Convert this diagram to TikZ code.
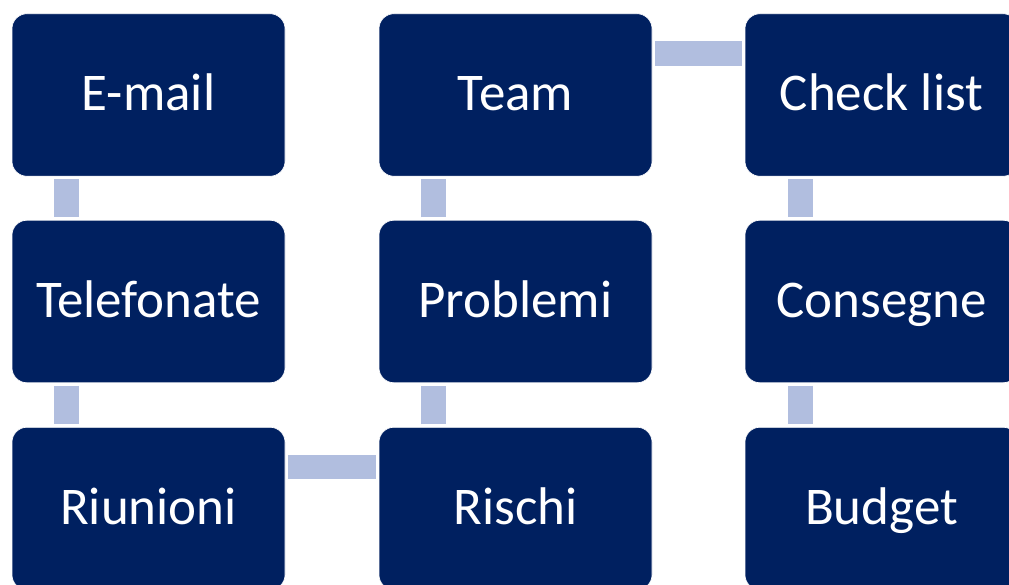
\documentclass[tikz,border=0pt]{standalone}
\usepackage{fontspec}
\setmainfont{Carlito}
\definecolor{navybox}{HTML}{002060}
\definecolor{linkcol}{HTML}{B1BEDF}
\tikzset{
  boxnode/.style={rectangle, rounded corners=15pt, minimum width=273pt, minimum height=162.5pt,
    fill=navybox, draw=white, line width=0.6pt, text=white, inner sep=0pt,
    text height=40pt, text depth=9pt,
    font=\fontsize{53}{62}\selectfont},
  vlink/.style={draw=linkcol, line width=24.5pt, line cap=butt, shorten <=2.5pt, shorten >=2.5pt},
  hlink/.style={draw=linkcol, line width=24.5pt, line cap=butt, shorten <=3pt, shorten >=3pt}
}
\begin{document}
\begin{tikzpicture}[x=1pt,y=-1pt]
\useasboundingbox (0,0) rectangle (1009,585);
\clip (0,0) rectangle (1009,585);
\node[boxnode] (email) at (148.5,95) {E-mail};
\node[boxnode] (tel) at (148.5,301.5) {Telefonate};
\node[boxnode] (riu) at (148.5,508.5) {Riunioni};
\node[boxnode] (team) at (515.5,95) {Team};
\node[boxnode] (prob) at (515.5,301.5) {Problemi};
\node[boxnode] (ris) at (515.5,508.5) {Rischi};
\node[boxnode] (check) at (881.5,95) {Check list};
\node[boxnode] (cons) at (881.5,301.5) {Consegne};
\node[boxnode] (bud) at (881.5,508.5) {Budget};
\draw[vlink] ([xshift=-82pt]email.south) -- ([xshift=-82pt]tel.north);
\draw[vlink] ([xshift=-82pt]tel.south) -- ([xshift=-82pt]riu.north);
\draw[hlink] ([yshift=41.5pt]riu.east) -- ([yshift=41.5pt]ris.west);
\draw[vlink] ([xshift=-82pt]ris.north) -- ([xshift=-82pt]prob.south);
\draw[vlink] ([xshift=-82pt]prob.north) -- ([xshift=-82pt]team.south);
\draw[hlink] ([yshift=41.5pt]team.east) -- ([yshift=41.5pt]check.west);
\draw[vlink] ([xshift=-81pt]check.south) -- ([xshift=-81pt]cons.north);
\draw[vlink] ([xshift=-81pt]cons.south) -- ([xshift=-81pt]bud.north);
\end{tikzpicture}
\end{document}
